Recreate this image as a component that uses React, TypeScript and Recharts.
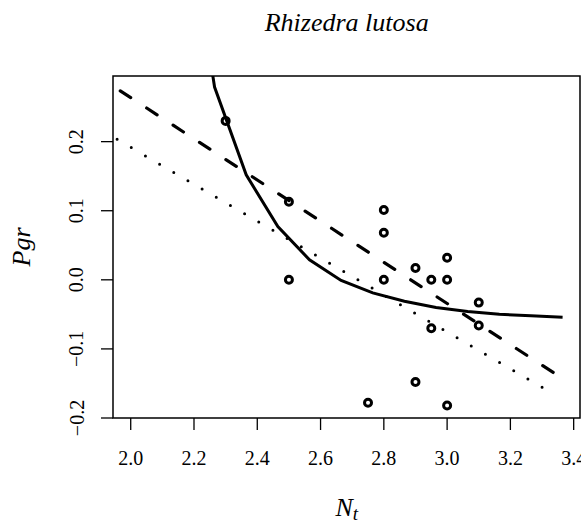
import React from "react";
import {
  ComposedChart,
  Line,
  Scatter,
  XAxis,
  YAxis,
  ReferenceArea,
} from "recharts";

// Observed points (Nt, Pgr)
const obsX = [2.3, 2.5, 2.5, 2.75, 2.8, 2.8, 2.8, 2.9, 2.9, 2.95, 2.95, 3.0, 3.0, 3.0, 3.1, 3.1];
const obsY = [0.23, 0.113, 0.0, -0.178, 0.101, 0.068, 0.0, 0.017, -0.148, 0.0, -0.07, 0.032, 0.0, -0.182, -0.033, -0.066];

// Solid fitted curve vertices
const solidX = [2.165, 2.265, 2.365, 2.465, 2.565, 2.665, 2.765, 2.865, 2.965, 3.065, 3.165, 3.265, 3.365];
const solidY = [0.575, 0.279, 0.152, 0.077, 0.029, -0.001, -0.019, -0.031, -0.04, -0.046, -0.05, -0.052, -0.054];

// Dashed straight line
const dashedX = [1.967, 3.357];
const dashedY = [0.2735, -0.1406];

// Dotted straight line
const dottedX = [1.957, 3.328];
const dottedY = [0.2033, -0.163];

const xTicks = [2.0, 2.2, 2.4, 2.6, 2.8, 3.0, 3.2, 3.4];
const yTicks = [-0.2, -0.1, 0.0, 0.1, 0.2];
const xDomain = [1.944, 3.42];
const yDomain = [-0.2, 0.295];

const toPts = (xs: number[], ys: number[]) => xs.map((x, i) => ({ x, y: ys[i] }));

const obsData = toPts(obsX, obsY);
const solidData = toPts(solidX, solidY);
const dashedData = toPts(dashedX, dashedY);
const dottedData = toPts(dottedX, dottedY);

const FONT = "Liberation Serif";

const YTick = (props: any) => {
  const { y, payload } = props;
  const x = 83.5;
  return (
    <text
      x={x}
      y={y}
      transform={`rotate(-90, ${x}, ${y})`}
      textAnchor="middle"
      style={{ fontFamily: FONT }}
      fontSize={20}
      fill="#000"
    >
      {Number(payload.value).toFixed(1).replace("-", "\u2212")}
    </text>
  );
};

const XTick = (props: any) => {
  const { x, payload } = props;
  return (
    <text
      x={x}
      y={465}
      textAnchor="middle"
      style={{ fontFamily: FONT }}
      fontSize={20}
      fill="#000"
    >
      {Number(payload.value).toFixed(1)}
    </text>
  );
};

const Circle = (props: any) => {
  const { cx, cy } = props;
  return <circle cx={cx} cy={cy} r={3.5} fill="none" stroke="#000" strokeWidth={3} />;
};

export default function App() {
  return (
    <div style={{ position: "absolute", left: 0, top: 0, width: 581, height: 524, background: "#fff" }}>
      <svg width={581} height={60} style={{ position: "absolute", left: 0, top: 0 }}>
        <text
          x={346.7}
          y={31}
          textAnchor="middle"
          style={{ fontFamily: FONT, fontStyle: "italic" }}
          fontSize={26}
          fill="#000"
        >
          Rhizedra lutosa
        </text>
      </svg>
      <ComposedChart
        width={581}
        height={524}
        margin={{ top: 76, right: 1, bottom: 0, left: 0 }}
        style={{ position: "absolute", left: 0, top: 0 }}
      >
        <XAxis
          type="number"
          dataKey="x"
          domain={xDomain}
          ticks={xTicks}
          allowDataOverflow
          height={106}
          tickSize={12}
          tickLine={{ stroke: "#000", strokeWidth: 1.3 }}
          axisLine={false}
          tick={<XTick />}
          interval={0}
          label={(p: any) => (
            <text
              x={346.7}
              y={516}
              textAnchor="middle"
              style={{ fontFamily: FONT, fontStyle: "italic" }}
              fontSize={26}
              fill="#000"
            >
              N
              <tspan fontSize={19} dy={4}>t</tspan>
            </text>
          )}
        />
        <YAxis
          type="number"
          dataKey="y"
          domain={yDomain}
          ticks={yTicks}
          allowDataOverflow
          width={113}
          tickSize={12}
          tickLine={{ stroke: "#000", strokeWidth: 1.3 }}
          axisLine={false}
          tick={<YTick />}
          interval={0}
          label={(p: any) => (
            <text
              x={30}
              y={247}
              transform="rotate(-90, 30, 247)"
              textAnchor="middle"
              style={{ fontFamily: FONT, fontStyle: "italic" }}
              fontSize={26}
              fill="#000"
            >
              Pgr
            </text>
          )}
        />
        <ReferenceArea
          x1={xDomain[0]}
          x2={xDomain[1]}
          y1={yDomain[0]}
          y2={yDomain[1]}
          fill="none"
          fillOpacity={0}
          stroke="#000"
          strokeWidth={1.5}
          ifOverflow="visible"
        />
        <Line
          data={dottedData}
          dataKey="y"
          type="linear"
          stroke="#000"
          strokeWidth={3}
          strokeDasharray="0 16.4"
          strokeLinecap="round"
          dot={false}
          activeDot={false}
          isAnimationActive={false}
        />
        <Line
          data={dashedData}
          dataKey="y"
          type="linear"
          stroke="#000"
          strokeWidth={3.2}
          strokeDasharray="12.4 19.1"
          strokeLinecap="round"
          dot={false}
          activeDot={false}
          isAnimationActive={false}
        />
        <Line
          data={solidData}
          dataKey="y"
          type="linear"
          stroke="#000"
          strokeWidth={3}
          dot={false}
          activeDot={false}
          isAnimationActive={false}
        />
        <Scatter data={obsData} dataKey="y" shape={<Circle />} isAnimationActive={false} />
      </ComposedChart>
    </div>
  );
}
